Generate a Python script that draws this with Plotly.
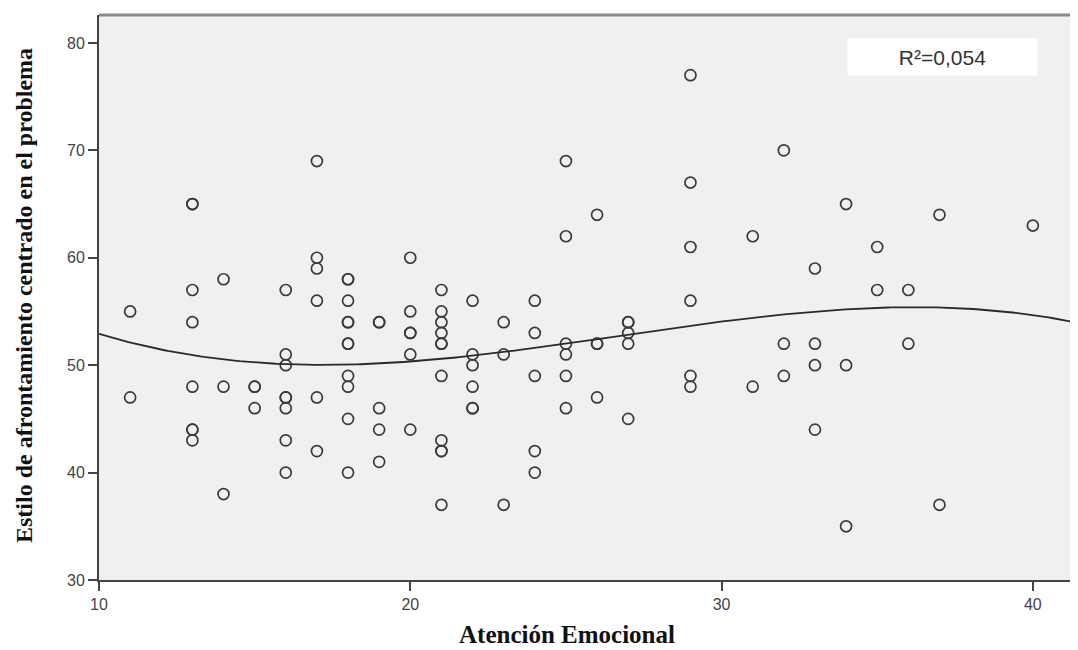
import numpy as np
import plotly.graph_objects as go

# Atención Emocional (x) and Estilo de afrontamiento centrado en el problema (y)
atencion = [11, 11,
            13, 13, 13, 13, 13, 13, 13, 13,
            14, 14, 14,
            15, 15, 15,
            16, 16, 16, 16, 16, 16, 16, 16,
            17, 17, 17, 17, 17, 17,
            18, 18, 18, 18, 18, 18, 18, 18, 18, 18, 18,
            19, 19, 19, 19, 19,
            20, 20, 20, 20, 20, 20,
            21, 21, 21, 21, 21, 21, 21, 21, 21, 21, 21,
            22, 22, 22, 22, 22, 22,
            23, 23, 23,
            24, 24, 24, 24, 24,
            25, 25, 25, 25, 25, 25,
            26, 26, 26, 26,
            27, 27, 27, 27, 27,
            29, 29, 29, 29, 29, 29,
            31, 31,
            32, 32, 32,
            33, 33, 33, 33,
            34, 34, 34,
            35, 35,
            36, 36,
            37, 37,
            40]
estilo = [55, 47,
          65, 65, 57, 54, 48, 44, 44, 43,
          58, 48, 38,
          48, 48, 46,
          57, 51, 50, 47, 47, 46, 43, 40,
          69, 60, 59, 56, 47, 42,
          58, 58, 56, 54, 54, 52, 52, 49, 48, 45, 40,
          54, 54, 46, 44, 41,
          60, 55, 53, 53, 51, 44,
          57, 55, 54, 53, 52, 52, 49, 43, 42, 42, 37,
          56, 51, 50, 48, 46, 46,
          54, 51, 37,
          56, 53, 49, 42, 40,
          69, 62, 52, 51, 49, 46,
          64, 52, 52, 47,
          54, 54, 53, 52, 45,
          77, 67, 61, 56, 49, 48,
          62, 48,
          70, 52, 49,
          59, 52, 50, 44,
          65, 50, 35,
          61, 57,
          57, 52,
          64, 37,
          63]
r2_label = "R²=0,054"
x_title = "Atención Emocional"
y_title = "Estilo de afrontamiento centrado en el problema"
x_ticks = [10, 20, 30, 40]
y_ticks = [30, 40, 50, 60, 70, 80]

x_range = [10, 41.45]
y_range = [30, 82.6]

# cubic fit computed from the data
coef = np.polyfit(atencion, estilo, 3)
fx = np.linspace(x_range[0], x_range[1], 300)
fy = np.polyval(coef, fx)

fig = go.Figure()
fig.add_trace(go.Scatter(
    x=atencion, y=estilo, mode="markers",
    marker=dict(symbol="circle-open", size=11, color="#3a3a3a",
                line=dict(width=1.7, color="#3a3a3a")),
    showlegend=False, hoverinfo="x+y"))
fig.add_trace(go.Scatter(
    x=fx, y=fy, mode="lines",
    line=dict(color="#2a2a2a", width=1.8),
    showlegend=False, hoverinfo="skip"))

tickfont = dict(family="Arial, Liberation Sans, sans-serif", size=16, color="#444444")
serif = "Times New Roman, Liberation Serif, serif"

# the page body adds an 8px offset, so the figure is 8px smaller on each axis
fig.update_layout(
    width=1070, height=642,
    margin=dict(l=91, r=0, t=7, b=70),
    paper_bgcolor="white",
    plot_bgcolor="#f0f0f0",
    xaxis=dict(range=x_range, tickvals=x_ticks, showgrid=False, zeroline=False,
               showline=True, linecolor="#444444", linewidth=2, automargin=False,
               ticks="outside", ticklen=9, tickwidth=2, tickcolor="#444444",
               tickfont=tickfont),
    yaxis=dict(range=y_range, tickvals=y_ticks, showgrid=False, zeroline=False,
               showline=True, linecolor="#444444", linewidth=2, automargin=False,
               ticks="outside", ticklen=9, tickwidth=2, tickcolor="#444444",
               tickfont=tickfont),
    shapes=[dict(type="line", xref="paper", yref="paper", x0=0, x1=1, y0=1, y1=1,
                 line=dict(color="#8a8a8a", width=3))],
    annotations=[
        dict(x=0.8616, y=0.9257, xref="paper", yref="paper", text=r2_label,
             xanchor="center", yanchor="middle",
             showarrow=False, bgcolor="white", width=187, height=34,
             font=dict(family="Arial, Liberation Sans, sans-serif", size=21, color="#333333")),
        dict(x=0.478, y=-0.0956, xref="paper", yref="paper", text="<b>" + x_title + "</b>",
             xanchor="center", yanchor="middle", showarrow=False,
             font=dict(family=serif, size=25, color="#111111")),
        dict(x=-0.0766, y=0.5027, xref="paper", yref="paper", text="<b>" + y_title + "</b>",
             xanchor="center", yanchor="middle", showarrow=False, textangle=-90,
             font=dict(family=serif, size=24, color="#111111")),
    ],
)

fig.write_html("out.html")
